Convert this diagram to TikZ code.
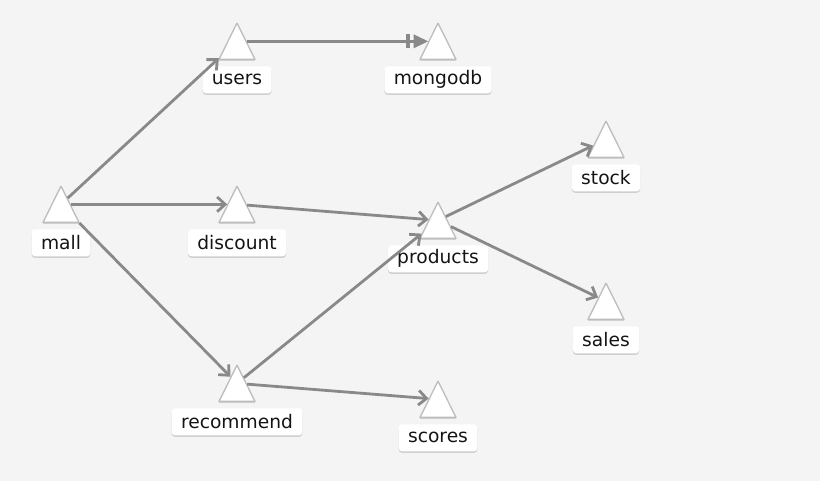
\documentclass[tikz,border=0pt]{standalone}
\usepackage{fontspec}
\setmainfont{DejaVu Sans}
\usetikzlibrary{positioning}
\usetikzlibrary{shapes.geometric}
\usetikzlibrary{arrows.meta}
\usetikzlibrary{shadows}
\definecolor{bg-gray}{HTML}{F4F4F4}
\definecolor{edge-gray}{HTML}{898989}
\definecolor{border-gray}{HTML}{BDBDBD}
\tikzstyle{service}=[trapezium,trapezium left angle=63.5,trapezium right angle=63.5,inner xsep=0.05pt,inner ysep=13.5pt,anchor=south,fill=white,draw=border-gray,line width=1pt,line join=round,drop shadow={shadow xshift=0pt,shadow yshift=-1.2pt,opacity=0.14,fill=black}]
\tikzstyle{svclabel}=[fill=white,rounded corners=2.5pt,font=\fontsize{14}{16}\selectfont,text=black!92,minimum height=20.25pt,inner xsep=7pt,inner ysep=0pt,drop shadow={shadow xshift=0pt,shadow yshift=-1.2pt,opacity=0.15,fill=black}]
\tikzstyle{call}=[edge-gray,line width=2.1pt,-{Straight Barb[length=6pt,width=11pt]}]
\tikzstyle{store}=[edge-gray,line width=2.1pt,-{Bar[width=10.5pt,line width=2.4pt,sep=3pt]Triangle[length=11pt,width=10pt]}]
\newcommand{\service}[3]{ % name, base point of the triangle, label
	\node[service] (#1) at (#2) {};
	\node[svclabel,below=4.5pt of #1] (#1-label) {#3};
}

\begin{document}
\begin{tikzpicture}[x=0.75pt,y=-0.75pt]
	\fill[bg-gray] (0,0) rectangle (820,481);
	% draw nodes
	\service{mall}{61,223}{mall}
	\service{users}{237,60}{users}
	\service{mongodb}{438,60}{mongodb}
	\service{discount}{237,223}{discount}
	\service{products}{438,239}{products}
	\service{stock}{606,158}{stock}
	\service{sales}{606,320}{sales}
	\service{recommend}{237,402}{recommend}
	\service{scores}{438,418}{scores}
	% draw calls
	\draw[call] (mall) -- (users);
	\draw[call] (mall) -- (discount);
	\draw[call] (mall) -- (recommend);
	\draw[store] (users) -- (mongodb);
	\draw[call] (discount) -- (products);
	\draw[call] (recommend) -- (products);
	\draw[call] (recommend) -- (scores);
	\draw[call] (products) -- (stock);
	\draw[call] (products) -- (sales);
\end{tikzpicture}
\end{document}
